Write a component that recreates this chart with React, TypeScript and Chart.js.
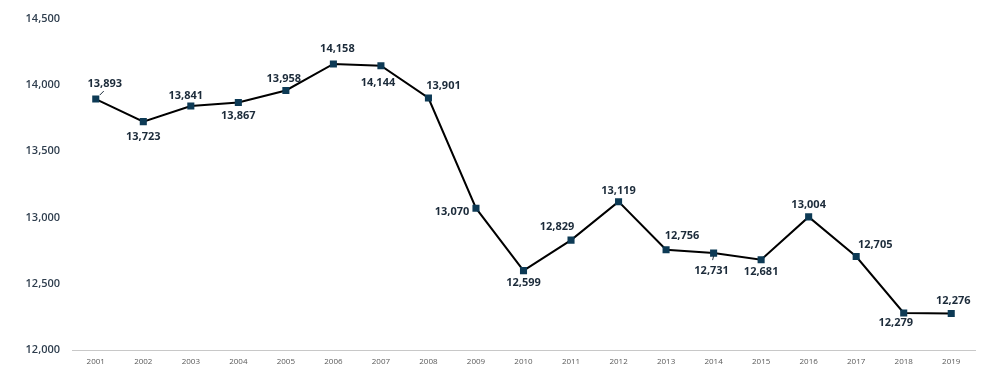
import React, { useEffect, useRef } from "react";
import { Chart, registerables } from "chart.js";

Chart.register(...registerables);

const years = ["2001","2002","2003","2004","2005","2006","2007","2008","2009","2010","2011","2012","2013","2014","2015","2016","2017","2018","2019"];
const values = [13893,13723,13841,13867,13958,14158,14144,13901,13070,12599,12829,13119,12756,12731,12681,13004,12705,12279,12276];
const labelDx = [9,0,-5,0,-2,4,-3,15,-24,0,-14,0,16,-2,0,0,19,-8,2];
const labelDy = [-15,15,-10,13,-12,-15,17,-12,4,12,-13,-11,-14,18,12,-12,-12,10,-13];
const leaderLines = [0, 13];
const yTicks = [12000, 12500, 13000, 13500, 14000, 14500];

const labelPlugin = {
  id: "pointLabels",
  afterDatasetsDraw(chart: any) {
    const ctx = chart.ctx;
    const meta = chart.getDatasetMeta(0);
    ctx.save();
    ctx.strokeStyle = "#1c2b3a";
    ctx.lineWidth = 1;
    leaderLines.forEach((i) => {
      const pt = meta.data[i];
      ctx.beginPath();
      if (i === 0) {
        ctx.moveTo(pt.x + 4, pt.y - 4);
        ctx.lineTo(pt.x + 8, pt.y - 8);
      } else {
        ctx.moveTo(pt.x, pt.y + 3);
        ctx.lineTo(pt.x - 1, pt.y + 7);
      }
      ctx.stroke();
    });
    ctx.font = "bold 11px 'Open Sans', sans-serif";
    ctx.fillStyle = "#1c2b3a";
    ctx.textAlign = "center";
    ctx.textBaseline = "middle";
    meta.data.forEach((pt: any, i: number) => {
      const txt = values[i].toLocaleString("en-US");
      ctx.fillText(txt, pt.x + labelDx[i], pt.y + labelDy[i]);
    });
    ctx.restore();
  },
};

export default function App() {
  const ref = useRef<HTMLCanvasElement>(null);
  useEffect(() => {
    if (!ref.current) return;
    const chart = new Chart(ref.current, {
      type: "line",
      data: {
        labels: years,
        datasets: [
          {
            data: values,
            borderColor: "#000000",
            borderWidth: 2,
            pointStyle: "rect",
            pointRadius: 5,
            pointBackgroundColor: "#0d3a55",
            pointBorderColor: "#0d3a55",
            pointBorderWidth: 0,
            tension: 0,
          },
        ],
      },
      options: {
        animation: false,
        responsive: false,
        layout: { padding: { top: 18, right: 24, bottom: 0, left: 0 } },
        plugins: { legend: { display: false }, tooltip: { enabled: false } },
        scales: {
          x: {
            offset: true,
            grid: { display: false, drawTicks: false },
            border: { display: true, color: "#c8c8c8", width: 1 },
            ticks: {
              color: "#595959",
              font: { size: 8, family: "'Open Sans', sans-serif" },
              padding: 7,
              maxRotation: 0,
              autoSkip: false,
            },
            afterFit(scale: any) {
              scale.height = 25;
            },
          },
          y: {
            min: 12000,
            max: 14500,
            afterBuildTicks(scale: any) {
              scale.ticks = yTicks.map((v) => ({ value: v }));
            },
            grid: { display: false, drawTicks: false },
            border: { display: false },
            ticks: {
              color: "#2f3e4e",
              font: { size: 11, weight: 600, family: "'Open Sans', sans-serif" },
              padding: 12,
              callback: (v: any) => Number(v).toLocaleString("en-US"),
            },
            afterFit(scale: any) {
              scale.width = 72;
            },
          },
        },
      },
      plugins: [labelPlugin],
    });
    return () => chart.destroy();
  }, []);
  return (
    <div style={{ position: "fixed", left: 0, top: 0, width: 999, height: 375, background: "#fff" }}>
      <canvas ref={ref} width={999} height={375} style={{ display: "block" }} />
    </div>
  );
}
